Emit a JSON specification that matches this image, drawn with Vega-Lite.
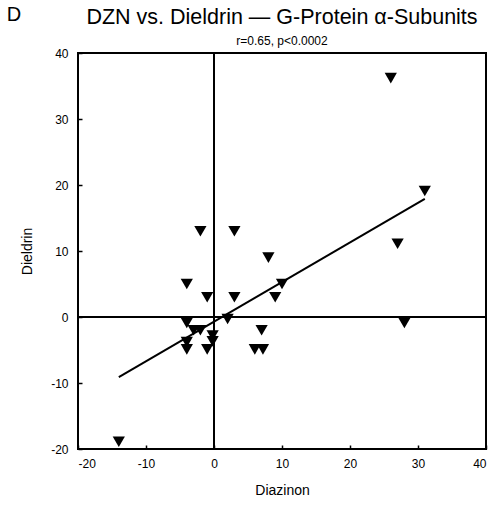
{
  "$schema": "https://vega.github.io/schema/vega-lite/v6.json",
  "width": 408,
  "height": 396,
  "autosize": "none",
  "padding": {"left": 78, "top": 53, "right": 14, "bottom": 56},
  "background": "white",
  "config": {
    "font": "Liberation Sans",
    "view": {"stroke": "black", "strokeWidth": 2},
    "axis": {"domain": false, "grid": false, "labelColor": "black", "titleColor": "black", "tickColor": "black", "labelFont": "Liberation Sans", "titleFont": "Liberation Sans", "labelFontSize": 12, "titleFontSize": 14, "titleFontWeight": "normal", "tickWidth": 1.5, "zindex": 1, "labelExpr": "'' + datum.value"}
  },
  "title": {
    "text": "DZN vs. Dieldrin — G-Protein α-Subunits",
    "subtitle": "r=0.65, p<0.0002",
    "anchor": "middle",
    "fontSize": 21.5,
    "fontWeight": "normal",
    "color": "black",
    "subtitleFontSize": 12,
    "subtitleColor": "black",
    "subtitlePadding": 7,
    "offset": 1,
    "dy": 43
  },
  "datasets": {
    "points": [
      {"Diazinon": 26, "Dieldrin": 36.2},
      {"Diazinon": 31, "Dieldrin": 19.1},
      {"Diazinon": 27, "Dieldrin": 11.1},
      {"Diazinon": 28, "Dieldrin": -0.9},
      {"Diazinon": -14, "Dieldrin": -18.9},
      {"Diazinon": -2, "Dieldrin": 13},
      {"Diazinon": 3, "Dieldrin": 13},
      {"Diazinon": 8, "Dieldrin": 9},
      {"Diazinon": 10, "Dieldrin": 5},
      {"Diazinon": 9, "Dieldrin": 3},
      {"Diazinon": -4, "Dieldrin": 5},
      {"Diazinon": -1, "Dieldrin": 3},
      {"Diazinon": 3, "Dieldrin": 3},
      {"Diazinon": 2, "Dieldrin": -0.3},
      {"Diazinon": -4, "Dieldrin": -0.9},
      {"Diazinon": -3, "Dieldrin": -2},
      {"Diazinon": -2, "Dieldrin": -2},
      {"Diazinon": -0.2, "Dieldrin": -2.8},
      {"Diazinon": -0.2, "Dieldrin": -3.7},
      {"Diazinon": 7, "Dieldrin": -2},
      {"Diazinon": -4, "Dieldrin": -3.8},
      {"Diazinon": -4, "Dieldrin": -4.9},
      {"Diazinon": -1, "Dieldrin": -4.9},
      {"Diazinon": 6, "Dieldrin": -4.9},
      {"Diazinon": 7.2, "Dieldrin": -4.9}
    ],
    "fit": [
      {"Diazinon": -14, "Dieldrin": -9.1},
      {"Diazinon": 31, "Dieldrin": 17.9}
    ],
    "one": [{"label": "D"}]
  },
  "layer": [
    {
      "data": {"name": "one"},
      "mark": {"type": "rule", "color": "black", "strokeWidth": 2},
      "encoding": {"x": {"datum": 0, "type": "quantitative"}}
    },
    {
      "data": {"name": "one"},
      "mark": {"type": "rule", "color": "black", "strokeWidth": 2},
      "encoding": {"y": {"datum": 0, "type": "quantitative"}}
    },
    {
      "data": {"name": "fit"},
      "mark": {"type": "line", "color": "black", "strokeWidth": 2},
      "encoding": {
        "x": {"field": "Diazinon", "type": "quantitative"},
        "y": {"field": "Dieldrin", "type": "quantitative"}
      }
    },
    {
      "data": {"name": "points"},
      "mark": {"type": "point", "shape": "triangle-down", "filled": true, "color": "black", "opacity": 1, "size": 150},
      "encoding": {
        "x": {"field": "Diazinon", "type": "quantitative", "scale": {"domain": [-20, 40], "nice": false, "zero": false}, "axis": {"values": [-20, -10, 0, 10, 20, 30, 40], "title": "Diazinon", "labelPadding": 13, "titlePadding": 14, "tickSize": -4}},
        "y": {"field": "Dieldrin", "type": "quantitative", "scale": {"domain": [-20, 40], "nice": false, "zero": false}, "axis": {"values": [-20, -10, 0, 10, 20, 30, 40], "title": "Dieldrin", "labelPadding": 14, "titlePadding": 16, "tickSize": -4}}
      }
    },
    {
      "data": {"name": "one"},
      "mark": {"type": "text", "fontSize": 20, "color": "black", "align": "center", "baseline": "middle"},
      "encoding": {
        "text": {"field": "label"},
        "x": {"datum": -29.4, "type": "quantitative"},
        "y": {"datum": 45.8, "type": "quantitative"}
      }
    }
  ]
}
